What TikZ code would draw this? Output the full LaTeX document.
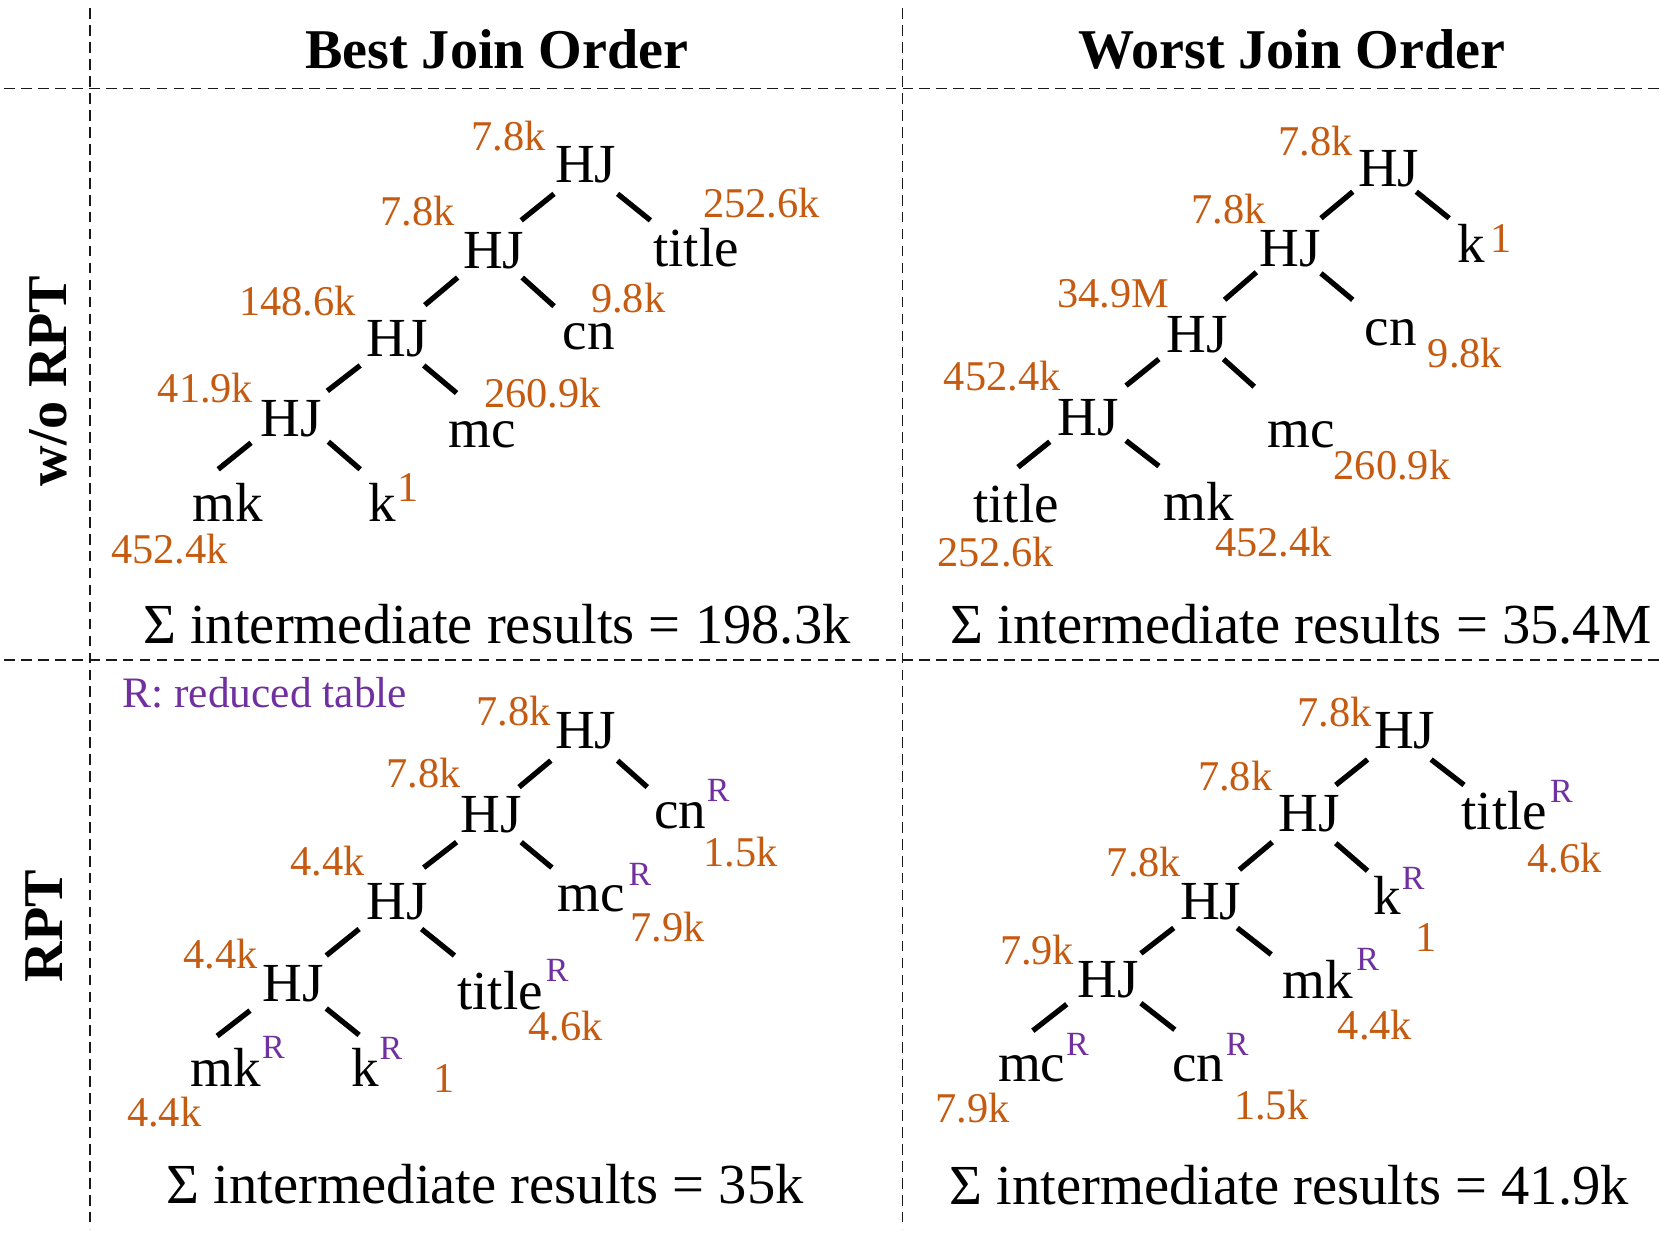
\documentclass[tikz,border=0pt]{standalone}
\usepackage{fontspec}
\setmainfont{Liberation Serif}
\usetikzlibrary{calc}
\definecolor{orng}{HTML}{C55A11}
\definecolor{purp}{HTML}{7030A0}
\begin{document}
\begin{tikzpicture}[x=0.5pt,y=-0.5pt,
  lbl/.style={inner sep=0pt, font=\fontsize{26}{30}\selectfont},
  num/.style={inner sep=0pt, text=orng, font=\fontsize{20}{24}\selectfont},
  rr/.style={inner sep=0pt, text=purp, font=\fontsize{16}{19}\selectfont},
  conn/.style={line width=2.5pt},
  sepline/.style={dash pattern=on 5pt off 3pt, line width=0.8pt, black!90},
  hdr/.style={inner sep=0pt, font=\bfseries\fontsize{26.5}{30}\selectfont},
  sumt/.style={inner sep=0pt, font=\fontsize{26.7}{30}\selectfont}]
\fill[white] (0,0) rectangle (1568,1164);
\useasboundingbox (0,0) rectangle (1568,1164);
% separators
\draw[sepline] (85,8) -- (85,1160);
\draw[sepline] (852,8) -- (852,1160);
\draw[sepline] (4,83.5) -- (1568,83.5);
\draw[sepline] (4,623) -- (1568,623);
% headers
\node[hdr] (hbest) at (469,46.5) {Best Join Order};
\node[hdr] (hworst) at (1219.5,46.5) {Worst Join Order};
\node[hdr, rotate=90] (rwo) at (45.5,359.5) {w/o RPT};
\node[hdr, rotate=90] (rrpt) at (42,874) {RPT};

% ---------- Q1: best, w/o RPT ----------
\node[lbl] (a1) at (553,155.5) {HJ};
\node[lbl] (a2) at (466,237) {HJ};
\node[lbl] (a3) at (375,320) {HJ};
\node[lbl] (a4) at (275,395) {HJ};
\node[lbl] (atitle) at (657,234) {title};
\node[lbl] (acn) at (556,318) {cn};
\node[lbl] (amc) at (455,410) {mc};
\node[lbl] (amk) at (215,474) {mk};
\node[lbl] (ak) at (361,474) {k};
\node[num] (ao1) at (480,128) {7.8k};
\node[num] (ao2) at (394,199) {7.8k};
\node[num] (ao3) at (719,192) {252.6k};
\node[num] (ao4) at (281,284) {148.6k};
\node[num] (ao5) at (593,281) {9.8k};
\node[num] (ao6) at (194,366) {41.9k};
\node[num] (ao7) at (512,371) {260.9k};
\node[num] (ao8) at (160,518) {452.4k};
\node[num] (ao9) at (385,460) {1};
\draw[conn] ($(a1.center)+(-30,27.5)$) -- ($(a2.center)+(26,-29)$);
\draw[conn] ($(a1.center)+(30,27.5)$) -- ($(atitle.center)+(-43,-26)$);
\draw[conn] ($(a2.center)+(-34,25)$) -- ($(a3.center)+(26,-32)$);
\draw[conn] ($(a2.center)+(27,25)$) -- ($(acn.center)+(-33,-29)$);
\draw[conn] ($(a3.center)+(-35,25)$) -- ($(a4.center)+(34,-26)$);
\draw[conn] ($(a3.center)+(25,25)$) -- ($(amc.center)+(-24,-39)$);
\draw[conn] ($(a4.center)+(-38,23)$) -- ($(amk.center)+(-9,-31)$);
\draw[conn] ($(a4.center)+(35,22)$) -- ($(ak.center)+(-21,-31)$);
\node[sumt] (asum) at (469,589) {Σ intermediate results = 198.3k};

% ---------- Q2: worst, w/o RPT ----------
\node[lbl] (b1) at (1311,159) {HJ};
\node[lbl] (b2) at (1218,235) {HJ};
\node[lbl] (b3) at (1130,316) {HJ};
\node[lbl] (b4) at (1027,394) {HJ};
\node[lbl] (bk) at (1389,230) {k};
\node[lbl] (bcn) at (1313,314) {cn};
\node[lbl] (bmc) at (1228,410) {mc};
\node[lbl] (btitle) at (959,475) {title};
\node[lbl] (bmk) at (1132,473) {mk};
\node[num] (bo1) at (1242,133) {7.8k};
\node[num] (bo2) at (1160,197) {7.8k};
\node[num] (bo3) at (1417,225) {1};
\node[num] (bo4) at (1051,277) {34.9M};
\node[num] (bo5) at (1383,333) {9.8k};
\node[num] (bo6) at (946,355) {452.4k};
\node[num] (bo7) at (1314,439) {260.9k};
\node[num] (bo8) at (940,521) {252.6k};
\node[num] (bo9) at (1202,512) {452.4k};
\draw[conn] ($(b1.center)+(-34,22)$) -- ($(b2.center)+(29,-29)$);
\draw[conn] ($(b1.center)+(26,22)$) -- ($(bk.center)+(-21,-24)$);
\draw[conn] ($(b2.center)+(-32,22)$) -- ($(b3.center)+(26,-33)$);
\draw[conn] ($(b2.center)+(29,23)$) -- ($(bcn.center)+(-36,-31)$);
\draw[conn] ($(b3.center)+(-36,23)$) -- ($(b4.center)+(36,-30)$);
\draw[conn] ($(b3.center)+(25,23)$) -- ($(bmc.center)+(-44,-45)$);
\draw[conn] ($(b4.center)+(-36,23)$) -- ($(btitle.center)+(2,-34)$);
\draw[conn] ($(b4.center)+(36,22)$) -- ($(bmk.center)+(-38,-33)$);
\node[sumt] (bsum) at (1228,589) {Σ intermediate results = 35.4M};

% ---------- Q3: best, RPT ----------
\node[inner sep=0pt, text=purp, font=\fontsize{20.5}{24}\selectfont] (legend) at (250,654) {R: reduced table};
\node[lbl] (c1) at (553,690) {HJ};
\node[lbl] (c2) at (464,769) {HJ};
\node[lbl] (c3) at (375,851) {HJ};
\node[lbl] (c4) at (277,929) {HJ};
\node[lbl] (ccn) at (642,770) {cn};
\node[lbl] (cmc) at (558,848) {mc};
\node[lbl] (ctitle) at (472,935) {title};
\node[lbl] (cmk) at (213,1008) {mk};
\node[lbl] (ck) at (345,1008) {k};
\node[rr] (ccnR) at (678,746) {R};
\node[rr] (cmcR) at (604,825) {R};
\node[rr] (ctitleR) at (526,916) {R};
\node[rr] (cmkR) at (258,989) {R};
\node[rr] (ckR) at (369,990) {R};
\node[num] (co1) at (485,671) {7.8k};
\node[num] (co2) at (400,730) {7.8k};
\node[num] (co3) at (699,804) {1.5k};
\node[num] (co4) at (309,813) {4.4k};
\node[num] (co5) at (630,875) {7.9k};
\node[num] (co6) at (208,901) {4.4k};
\node[num] (co7) at (534,969) {4.6k};
\node[num] (co8) at (155,1050) {4.4k};
\node[num] (co9) at (419,1018) {1};
\draw[conn] ($(c1.center)+(-33,28)$) -- ($(c2.center)+(26,-26)$);
\draw[conn] ($(c1.center)+(30,28)$) -- ($(ccn.center)+(-31,-27)$);
\draw[conn] ($(c2.center)+(-33,26)$) -- ($(c3.center)+(25,-32)$);
\draw[conn] ($(c2.center)+(28,26)$) -- ($(cmc.center)+(-37,-29)$);
\draw[conn] ($(c3.center)+(-36,26)$) -- ($(c4.center)+(31,-27)$);
\draw[conn] ($(c3.center)+(23,26)$) -- ($(ctitle.center)+(-43,-33)$);
\draw[conn] ($(c4.center)+(-41,25)$) -- ($(cmk.center)+(-8,-30)$);
\draw[conn] ($(c4.center)+(31,23)$) -- ($(ck.center)+(-6,-31)$);
\node[sumt] (csum) at (458,1118) {Σ intermediate results = 35k};

% ---------- Q4: worst, RPT ----------
\node[lbl] (d1) at (1326,690) {HJ};
\node[lbl] (d2) at (1236,768) {HJ};
\node[lbl] (d3) at (1143,851) {HJ};
\node[lbl] (d4) at (1046,925) {HJ};
\node[lbl] (dtitle) at (1420,765) {title};
\node[lbl] (dk) at (1310,845) {k};
\node[lbl] (dmk) at (1244,925) {mk};
\node[lbl] (dmc) at (974,1009) {mc};
\node[lbl] (dcn) at (1131,1009) {cn};
\node[rr] (dtitleR) at (1474,747) {R};
\node[rr] (dkR) at (1334,829) {R};
\node[rr] (dmkR) at (1291,906) {R};
\node[rr] (dmcR) at (1017,986) {R};
\node[rr] (dcnR) at (1168,986) {R};
\node[num] (do1) at (1260,672) {7.8k};
\node[num] (do2) at (1166,733) {7.8k};
\node[num] (do3) at (1477,810) {4.6k};
\node[num] (do4) at (1080,814) {7.8k};
\node[num] (do5) at (1346,885) {1};
\node[num] (do6) at (979,897) {7.9k};
\node[num] (do7) at (1298,968) {4.4k};
\node[num] (do8) at (918,1046) {7.9k};
\node[num] (do9) at (1200,1043) {1.5k};
\draw[conn] ($(d1.center)+(-35,27)$) -- ($(d2.center)+(25,-27)$);
\draw[conn] ($(d1.center)+(25,27)$) -- ($(dtitle.center)+(-38,-24)$);
\draw[conn] ($(d2.center)+(-35,27)$) -- ($(d3.center)+(27,-30)$);
\draw[conn] ($(d2.center)+(25,28)$) -- ($(dk.center)+(-19,-23)$);
\draw[conn] ($(d3.center)+(-35,25)$) -- ($(d4.center)+(31,-25)$);
\draw[conn] ($(d3.center)+(25,25)$) -- ($(dmk.center)+(-44,-24)$);
\draw[conn] ($(d4.center)+(-39,23)$) -- ($(dmc.center)+(1,-36)$);
\draw[conn] ($(d4.center)+(31,22)$) -- ($(dcn.center)+(-22,-37)$);
\node[sumt] (dsum) at (1217,1119) {Σ intermediate results = 41.9k};
\end{tikzpicture}
\end{document}
